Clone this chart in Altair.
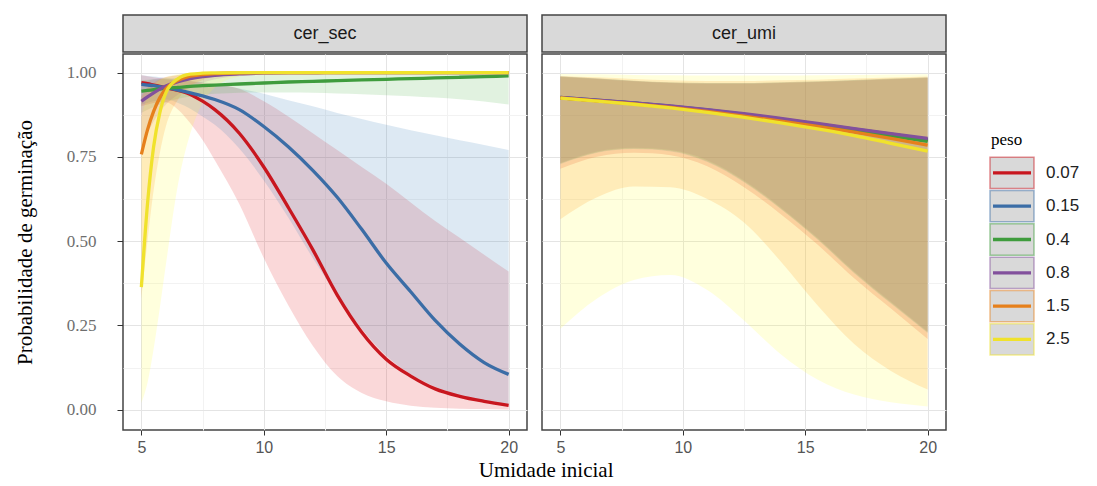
import altair as alt
import pandas as pd

# ---------------- data ----------------
pesos = ["0.07", "0.15", "0.4", "0.8", "1.5", "2.5"]
panels = ["cer_sec", "cer_umi"]
ribbon_colors = ["#E41A1C", "#377EB8", "#4DAF4A", "#984EA3", "#FF7F00", "#FFFF33"]
line_colors = ["#c8171f", "#3b6da6", "#3f9c3d", "#82509c", "#e6801c", "#f0e22c"]

# cer_sec panel
x_sec = [5, 5.25, 5.5, 5.75, 6, 6.5, 7, 7.5, 8, 9, 10, 11, 12, 13, 14, 15, 16, 17, 18, 19, 20]

sec_fit_007 = [0.970, 0.967, 0.963, 0.959, 0.955, 0.947, 0.935, 0.915, 0.890, 0.820, 0.720, 0.600, 0.475, 0.340, 0.230, 0.150, 0.100, 0.062, 0.040, 0.025, 0.013]
sec_lo_007 = [0.900, 0.905, 0.910, 0.913, 0.912, 0.890, 0.850, 0.800, 0.740, 0.610, 0.450, 0.310, 0.190, 0.100, 0.050, 0.025, 0.012, 0.006, 0.003, 0.002, 0.001]
sec_hi_007 = [0.992, 0.989, 0.986, 0.983, 0.980, 0.977, 0.974, 0.970, 0.966, 0.952, 0.915, 0.870, 0.820, 0.770, 0.720, 0.670, 0.615, 0.560, 0.510, 0.460, 0.410]

sec_fit_015 = [0.965, 0.963, 0.961, 0.958, 0.955, 0.948, 0.940, 0.931, 0.920, 0.890, 0.840, 0.780, 0.710, 0.630, 0.535, 0.435, 0.350, 0.265, 0.195, 0.140, 0.105]
sec_lo_015 = [0.905, 0.910, 0.915, 0.918, 0.920, 0.910, 0.893, 0.870, 0.845, 0.775, 0.680, 0.570, 0.450, 0.340, 0.240, 0.160, 0.105, 0.068, 0.042, 0.027, 0.017]
sec_hi_015 = [0.992, 0.990, 0.988, 0.986, 0.983, 0.979, 0.975, 0.971, 0.967, 0.953, 0.937, 0.918, 0.900, 0.880, 0.862, 0.845, 0.829, 0.814, 0.799, 0.785, 0.770]

sec_fit_04 = [0.945, 0.947, 0.949, 0.951, 0.953, 0.956, 0.959, 0.961, 0.963, 0.966, 0.969, 0.972, 0.974, 0.976, 0.978, 0.980, 0.982, 0.984, 0.986, 0.988, 0.990]
sec_lo_04 = [0.880, 0.890, 0.898, 0.905, 0.912, 0.922, 0.929, 0.934, 0.937, 0.940, 0.941, 0.941, 0.940, 0.938, 0.936, 0.933, 0.930, 0.926, 0.921, 0.914, 0.905]
sec_hi_04 = [0.978, 0.979, 0.980, 0.981, 0.982, 0.984, 0.986, 0.988, 0.989, 0.991, 0.993, 0.994, 0.995, 0.996, 0.997, 0.997, 0.998, 0.998, 0.999, 0.999, 0.999]

sec_fit_08 = [0.915, 0.928, 0.940, 0.951, 0.960, 0.973, 0.982, 0.988, 0.992, 0.996, 0.998, 0.999, 0.999, 1.000, 1.000, 1.000, 1.000, 1.000, 1.000, 1.000, 1.000]
sec_lo_08 = [0.780, 0.820, 0.855, 0.883, 0.905, 0.935, 0.955, 0.970, 0.980, 0.990, 0.995, 0.997, 0.998, 0.999, 0.999, 0.999, 0.999, 0.999, 0.999, 0.999, 0.999]
sec_hi_08 = [0.970, 0.975, 0.980, 0.984, 0.987, 0.992, 0.995, 0.997, 0.998, 0.999, 1.000, 1.000, 1.000, 1.000, 1.000, 1.000, 1.000, 1.000, 1.000, 1.000, 1.000]

sec_fit_15 = [0.757, 0.830, 0.885, 0.925, 0.952, 0.977, 0.989, 0.994, 0.997, 0.999, 1.000, 1.000, 1.000, 1.000, 1.000, 1.000, 1.000, 1.000, 1.000, 1.000, 1.000]
sec_lo_15 = [0.330, 0.500, 0.650, 0.760, 0.840, 0.920, 0.960, 0.978, 0.988, 0.996, 0.998, 0.999, 0.999, 0.999, 0.999, 0.999, 0.999, 0.999, 0.999, 0.999, 0.999]
sec_hi_15 = [0.930, 0.955, 0.970, 0.980, 0.986, 0.993, 0.997, 0.998, 0.999, 1.000, 1.000, 1.000, 1.000, 1.000, 1.000, 1.000, 1.000, 1.000, 1.000, 1.000, 1.000]

sec_fit_25 = [0.364, 0.610, 0.780, 0.880, 0.940, 0.982, 0.995, 0.998, 0.999, 1.000, 1.000, 1.000, 1.000, 1.000, 1.000, 1.000, 1.000, 1.000, 1.000, 1.000, 1.000]
sec_lo_25 = [0.020, 0.080, 0.180, 0.300, 0.430, 0.670, 0.820, 0.910, 0.955, 0.988, 0.996, 0.999, 0.999, 0.999, 0.999, 0.999, 0.999, 0.999, 0.999, 0.999, 0.999]
sec_hi_25 = [0.870, 0.930, 0.962, 0.978, 0.987, 0.995, 0.998, 0.999, 1.000, 1.000, 1.000, 1.000, 1.000, 1.000, 1.000, 1.000, 1.000, 1.000, 1.000, 1.000, 1.000]

# cer_umi panel
x_umi = [5, 6.5, 8, 9.5, 11, 12.5, 14, 15.5, 17, 18.5, 20]

umi_fit_007 = [0.925, 0.917, 0.909, 0.899, 0.888, 0.875, 0.861, 0.846, 0.830, 0.815, 0.800]
umi_lo_007 = [0.715, 0.750, 0.762, 0.755, 0.722, 0.660, 0.580, 0.490, 0.390, 0.300, 0.210]
umi_hi_007 = [0.987, 0.981, 0.974, 0.969, 0.967, 0.967, 0.969, 0.972, 0.976, 0.980, 0.984]

umi_fit_015 = [0.926, 0.918, 0.910, 0.900, 0.889, 0.876, 0.862, 0.847, 0.832, 0.817, 0.802]
umi_lo_015 = [0.728, 0.762, 0.773, 0.766, 0.735, 0.675, 0.595, 0.505, 0.405, 0.315, 0.228]
umi_hi_015 = [0.988, 0.982, 0.975, 0.970, 0.968, 0.968, 0.970, 0.973, 0.977, 0.981, 0.985]

umi_fit_04 = [0.925, 0.917, 0.909, 0.899, 0.887, 0.874, 0.859, 0.844, 0.828, 0.812, 0.796]
umi_lo_04 = [0.730, 0.764, 0.775, 0.768, 0.737, 0.677, 0.597, 0.507, 0.407, 0.317, 0.230]
umi_hi_04 = [0.988, 0.982, 0.976, 0.971, 0.969, 0.969, 0.971, 0.974, 0.978, 0.982, 0.985]

umi_fit_08 = [0.926, 0.918, 0.910, 0.901, 0.890, 0.878, 0.864, 0.849, 0.834, 0.819, 0.805]
umi_lo_08 = [0.732, 0.766, 0.777, 0.770, 0.740, 0.680, 0.600, 0.510, 0.410, 0.320, 0.232]
umi_hi_08 = [0.989, 0.983, 0.976, 0.971, 0.969, 0.969, 0.971, 0.974, 0.978, 0.982, 0.986]

umi_fit_15 = [0.925, 0.916, 0.907, 0.897, 0.885, 0.871, 0.856, 0.840, 0.823, 0.805, 0.785]
umi_lo_15 = [0.565, 0.630, 0.662, 0.660, 0.625, 0.555, 0.440, 0.310, 0.195, 0.115, 0.060]
umi_hi_15 = [0.990, 0.986, 0.981, 0.977, 0.975, 0.975, 0.977, 0.979, 0.982, 0.985, 0.988]

umi_fit_25 = [0.924, 0.915, 0.906, 0.895, 0.882, 0.867, 0.851, 0.833, 0.813, 0.790, 0.767]
umi_lo_25 = [0.240, 0.330, 0.385, 0.400, 0.355, 0.265, 0.165, 0.090, 0.045, 0.022, 0.010]
umi_hi_25 = [0.996, 0.995, 0.993, 0.992, 0.991, 0.991, 0.991, 0.992, 0.993, 0.994, 0.995]

series = {
    "cer_sec": (x_sec, {
        "0.07": (sec_fit_007, sec_lo_007, sec_hi_007),
        "0.15": (sec_fit_015, sec_lo_015, sec_hi_015),
        "0.4": (sec_fit_04, sec_lo_04, sec_hi_04),
        "0.8": (sec_fit_08, sec_lo_08, sec_hi_08),
        "1.5": (sec_fit_15, sec_lo_15, sec_hi_15),
        "2.5": (sec_fit_25, sec_lo_25, sec_hi_25),
    }),
    "cer_umi": (x_umi, {
        "0.07": (umi_fit_007, umi_lo_007, umi_hi_007),
        "0.15": (umi_fit_015, umi_lo_015, umi_hi_015),
        "0.4": (umi_fit_04, umi_lo_04, umi_hi_04),
        "0.8": (umi_fit_08, umi_lo_08, umi_hi_08),
        "1.5": (umi_fit_15, umi_lo_15, umi_hi_15),
        "2.5": (umi_fit_25, umi_lo_25, umi_hi_25),
    }),
}

rows = []
for pan, (xs, groups) in series.items():
    for p in pesos:
        fit, lo, hi = groups[p]
        for xv, f, l, h in zip(xs, fit, lo, hi):
            rows.append({"panel": pan, "peso": p, "x": xv, "fit": f, "lo": l, "hi": h})
df = pd.DataFrame(rows)

# ---------------- chart ----------------
W = 404
H = 376
STRIP_H = 37
SERIF = "Liberation Serif"
SANS = "Liberation Sans"

x_scale = alt.Scale(domain=[4.25, 20.75], nice=False, zero=False)
y_scale = alt.Scale(domain=[-0.06, 1.055], nice=False, zero=False)
stroke_scale = alt.Scale(domain=pesos, range=line_colors)
fill_scale = alt.Scale(domain=pesos, range=ribbon_colors)

x_major = "datum.value % 5 == 0"
y_major = "round(datum.value * 8) % 2 == 0"


def x_axis():
    return alt.Axis(
        values=[5, 7.5, 10, 12.5, 15, 17.5, 20],
        labelExpr=f"{x_major} ? datum.label : ''",
        title=None, domain=False,
        tickColor="#333333", tickSize=5, tickWidth=1,
        tickOpacity={"condition": {"test": x_major, "value": 1}, "value": 0},
        gridColor={"condition": {"test": x_major, "value": "#e4e4e4"}, "value": "#f2f2f2"},
        gridWidth=1,
        labelFont=SANS, labelFontSize=16, labelColor="#555555", labelPadding=4,
    )


def y_axis(show):
    if show:
        return alt.Axis(
            values=[0, 0.125, 0.25, 0.375, 0.5, 0.625, 0.75, 0.875, 1.0],
            labelExpr=f"{y_major} ? format(datum.value, '.2f') : ''",
            title="Probabilidade de germinação",
            titleFont=SERIF, titleFontSize=21, titleFontWeight="normal", titleColor="#000000",
            titlePadding=31,
            domain=False,
            tickColor="#333333", tickSize=6, tickWidth=1,
            tickOpacity={"condition": {"test": y_major, "value": 1}, "value": 0},
            gridColor={"condition": {"test": y_major, "value": "#e4e4e4"}, "value": "#f2f2f2"},
            gridWidth=1,
            labelFont=SERIF, labelFontSize=17, labelColor="#6e6e6e", labelPadding=21,
        )
    return alt.Axis(
        values=[0, 0.125, 0.25, 0.375, 0.5, 0.625, 0.75, 0.875, 1.0],
        labels=False, ticks=False, title=None, domain=False,
        gridColor={"condition": {"test": y_major, "value": "#e4e4e4"}, "value": "#f2f2f2"},
        gridWidth=1,
    )


def panel(name, show_y):
    data = df[df["panel"] == name]
    base = alt.Chart(data)
    xenc = alt.X("x:Q", scale=x_scale, axis=x_axis())
    area = base.mark_area(opacity=0.17, interpolate="monotone").encode(
        x=xenc,
        y=alt.Y("lo:Q", scale=y_scale, axis=y_axis(show_y), stack=None),
        y2="hi:Q",
        fill=alt.Fill("peso:N", scale=fill_scale, legend=None),
    )
    line = base.mark_line(strokeWidth=3.3, interpolate="monotone").encode(
        x=xenc,
        y=alt.Y("fit:Q", scale=y_scale, axis=y_axis(show_y)),
        stroke=alt.Stroke("peso:N", scale=stroke_scale, legend=None),
    )
    plot = alt.layer(area, line).properties(width=W, height=H)
    strip = alt.Chart(pd.DataFrame({"lab": [name]})).mark_text(
        font=SANS, fontSize=18, color="#1a1a1a"
    ).encode(text="lab:N").properties(
        width=W, height=STRIP_H,
        view=alt.ViewBackground(fill="#d9d9d9", stroke="#444444", strokeWidth=1.5),
    )
    return alt.vconcat(strip, plot, spacing=0)


# ---- legend (drawn as its own small chart) ----
legend_title = "peso"
leg_rows = [legend_title] + pesos
leg_y = alt.Scale(domain=leg_rows, paddingInner=0.06, paddingOuter=0)
leg_df = pd.DataFrame({"peso": pesos})
leg_base = alt.Chart(leg_df)
leg_boxes = leg_base.mark_rect(fill="#d9d9d9", strokeWidth=1.5, strokeOpacity=0.5).encode(
    x=alt.value(0), x2=alt.value(44),
    y=alt.Y("peso:N", scale=leg_y, axis=None),
    stroke=alt.Stroke("peso:N", scale=stroke_scale, legend=None),
)
leg_lines = leg_base.mark_rule(strokeWidth=3.3).encode(
    x=alt.value(3), x2=alt.value(41),
    y=alt.Y("peso:N", scale=leg_y, axis=None),
    stroke=alt.Stroke("peso:N", scale=stroke_scale, legend=None),
)
leg_labels = leg_base.mark_text(
    align="left", baseline="middle", font=SANS, fontSize=17, color="#222222"
).encode(
    x=alt.value(56),
    y=alt.Y("peso:N", scale=leg_y, axis=None),
    text="peso:N",
)
leg_head = alt.Chart(pd.DataFrame({"peso": [legend_title]})).mark_text(
    align="left", baseline="middle", font=SERIF, fontSize=17, color="#000000"
).encode(
    x=alt.value(1),
    y=alt.Y("peso:N", scale=leg_y, axis=None),
    text="peso:N",
)
legend_chart = alt.layer(leg_boxes, leg_lines, leg_labels, leg_head).properties(
    width=95, height=7 * 33,
    view=alt.ViewBackground(stroke="transparent", fill="white"),
)
spacer = alt.Chart(pd.DataFrame({"a": [0]})).mark_point(opacity=0).encode(
    x=alt.value(0), y=alt.value(0)
).properties(width=95, height=8, view=alt.ViewBackground(stroke="transparent"))
legend_col = alt.vconcat(spacer, legend_chart, spacing=99)

panels_row = alt.hconcat(
    panel("cer_sec", True),
    panel("cer_umi", False),
    spacing=13,
).properties(
    title=alt.TitleParams(
        "Umidade inicial", orient="bottom", anchor="middle",
        font=SERIF, fontSize=21, fontWeight="normal", color="#000000", offset=4, dx=66,
    ),
)

chart = alt.hconcat(panels_row, legend_col, spacing=39).properties(
    padding={"left": 5, "top": 3, "right": 0, "bottom": 0},
    background="white",
).configure_view(stroke="#444444", strokeWidth=1.5)

chart.save("out.html", embed_options={"renderer": "svg", "actions": False})
